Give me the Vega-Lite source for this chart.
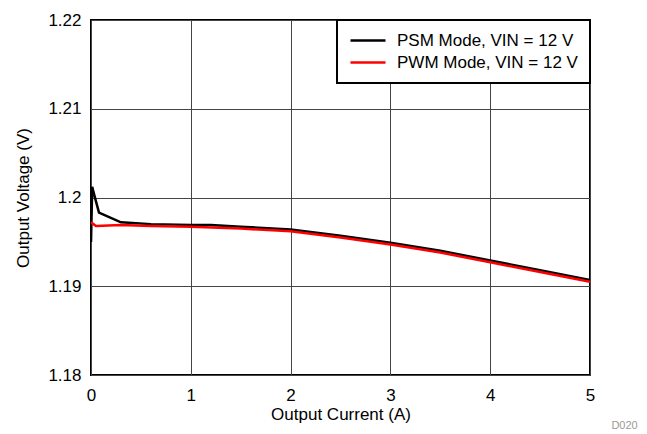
{
  "$schema": "https://vega.github.io/schema/vega-lite/v6.json",
  "width": 499,
  "height": 355,
  "autosize": {"type": "none"},
  "padding": {"left": 91, "top": 20, "right": 57, "bottom": 59},
  "background": "white",
  "config": {
    "font": "Liberation Sans",
    "view": {"stroke": "black", "strokeWidth": 2},
    "legend": {"strokeWidth": 2},
    "axis": {
      "grid": true,
      "gridColor": "#444",
      "gridWidth": 1,
      "gridOpacity": 1,
      "domain": false,
      "ticks": false,
      "labelFlush": false,
      "labelFontSize": 17,
      "labelColor": "black",
      "titleFontSize": 17,
      "titleFontWeight": "normal",
      "titleColor": "black"
    }
  },
  "title": {
    "text": "D020",
    "orient": "bottom",
    "anchor": "end",
    "fontSize": 11,
    "fontWeight": "normal",
    "color": "#9a9a9a",
    "dx": 43,
    "offset": -2
  },
  "data": {
    "values": [
      {"series": "PSM Mode, VIN = 12 V", "current": 0.0, "voltage": 1.1950},
      {"series": "PSM Mode, VIN = 12 V", "current": 0.012, "voltage": 1.2012},
      {"series": "PSM Mode, VIN = 12 V", "current": 0.025, "voltage": 1.2006},
      {"series": "PSM Mode, VIN = 12 V", "current": 0.08, "voltage": 1.1983},
      {"series": "PSM Mode, VIN = 12 V", "current": 0.3, "voltage": 1.1972},
      {"series": "PSM Mode, VIN = 12 V", "current": 0.6, "voltage": 1.1970},
      {"series": "PSM Mode, VIN = 12 V", "current": 1.0, "voltage": 1.1969},
      {"series": "PSM Mode, VIN = 12 V", "current": 1.2, "voltage": 1.1969},
      {"series": "PSM Mode, VIN = 12 V", "current": 1.5, "voltage": 1.1967},
      {"series": "PSM Mode, VIN = 12 V", "current": 2.0, "voltage": 1.1964},
      {"series": "PSM Mode, VIN = 12 V", "current": 2.5, "voltage": 1.1957},
      {"series": "PSM Mode, VIN = 12 V", "current": 3.0, "voltage": 1.1949},
      {"series": "PSM Mode, VIN = 12 V", "current": 3.5, "voltage": 1.1940},
      {"series": "PSM Mode, VIN = 12 V", "current": 4.0, "voltage": 1.1929},
      {"series": "PSM Mode, VIN = 12 V", "current": 4.5, "voltage": 1.1918},
      {"series": "PSM Mode, VIN = 12 V", "current": 5.0, "voltage": 1.1907},
      {"series": "PWM Mode, VIN = 12 V", "current": 0.0, "voltage": 1.1972},
      {"series": "PWM Mode, VIN = 12 V", "current": 0.05, "voltage": 1.1968},
      {"series": "PWM Mode, VIN = 12 V", "current": 0.3, "voltage": 1.1969},
      {"series": "PWM Mode, VIN = 12 V", "current": 0.6, "voltage": 1.1968},
      {"series": "PWM Mode, VIN = 12 V", "current": 1.0, "voltage": 1.1967},
      {"series": "PWM Mode, VIN = 12 V", "current": 1.5, "voltage": 1.1965},
      {"series": "PWM Mode, VIN = 12 V", "current": 2.0, "voltage": 1.1962},
      {"series": "PWM Mode, VIN = 12 V", "current": 2.5, "voltage": 1.1955},
      {"series": "PWM Mode, VIN = 12 V", "current": 3.0, "voltage": 1.1947},
      {"series": "PWM Mode, VIN = 12 V", "current": 3.5, "voltage": 1.1938},
      {"series": "PWM Mode, VIN = 12 V", "current": 4.0, "voltage": 1.1927},
      {"series": "PWM Mode, VIN = 12 V", "current": 4.5, "voltage": 1.1916},
      {"series": "PWM Mode, VIN = 12 V", "current": 5.0, "voltage": 1.1905}
    ]
  },
  "mark": {"type": "line", "strokeWidth": 2.5, "clip": true},
  "encoding": {
    "x": {
      "field": "current",
      "type": "quantitative",
      "scale": {"domain": [0, 5], "nice": false, "zero": false},
      "axis": {"title": "Output Current (A)", "values": [0, 1, 2, 3, 4, 5], "labelPadding": 12, "titlePadding": 3}
    },
    "y": {
      "field": "voltage",
      "type": "quantitative",
      "scale": {"domain": [1.18, 1.22], "nice": false, "zero": false},
      "axis": {"title": "Output Voltage (V)", "values": [1.18, 1.19, 1.2, 1.21, 1.22], "format": "~g", "labelPadding": 10, "titlePadding": 15}
    },
    "color": {
      "field": "series",
      "type": "nominal",
      "scale": {"domain": ["PSM Mode, VIN = 12 V", "PWM Mode, VIN = 12 V"], "range": ["black", "#ff0000"]},
      "legend": {
        "title": null,
        "orient": "top-right",
        "offset": 0,
        "padding": 12,
        "fillColor": "white",
        "strokeColor": "black",
        "symbolType": "stroke",
        "symbolSize": 1225,
        "symbolStrokeWidth": 2.5,
        "clipHeight": 17,
        "labelFontSize": 17,
        "labelOffset": 10,
        "labelColor": "black",
        "labelLimit": 300,
        "rowPadding": 4
      }
    }
  }
}
